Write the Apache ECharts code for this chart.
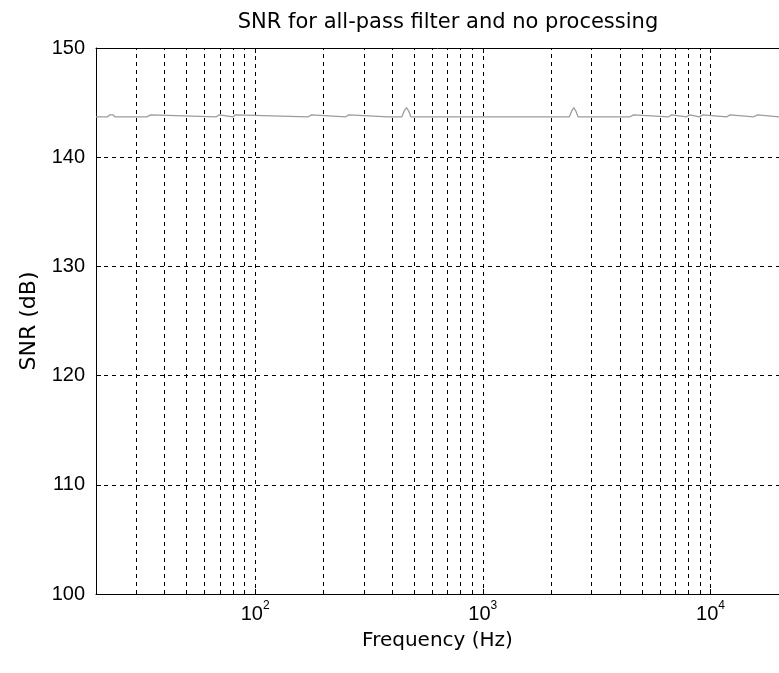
<!DOCTYPE html>
<html>
<head>
<meta charset="utf-8">
<script src="https://cdn.jsdelivr.net/npm/echarts@6/dist/echarts.min.js"></script>
<style>html,body{margin:0;padding:0;background:#fff}#c{width:779px;height:673px}</style>
</head>
<body>
<div id="c"></div>
<script>
// Frequency (Hz) and SNR (dB)
const freqHz = [20, 22.5, 23.0, 23.7, 24.2, 33.4, 34.0, 34.8, 35.4, 67.6, 68.4, 69.6, 70.3,
  80, 80.8, 82.0, 82.9, 171, 173, 177, 179, 250, 253, 258, 261, 385, 391, 397,
  441, 452, 462, 472, 483, 2400, 2460, 2510, 2560, 2620, 4430, 4500, 4600, 4680,
  6560, 6650, 6750, 6820, 7850, 7950, 8100, 8200, 8950, 9050, 9250, 9350,
  11800, 11950, 12200, 12400, 15500, 15700, 16100, 16300, 20000];
const snrDb = [143.7, 143.7, 143.88, 143.88, 143.7, 143.7, 143.88, 143.88, 143.7, 143.7, 143.88, 143.88, 143.7,
  143.7, 143.88, 143.88, 143.7, 143.7, 143.88, 143.88, 143.7, 143.7, 143.88, 143.88, 143.7, 143.7, 143.85, 143.7,
  143.7, 144.25, 144.55, 144.25, 143.7, 143.7, 144.25, 144.55, 144.25, 143.7, 143.7, 143.88, 143.88, 143.7,
  143.7, 143.88, 143.88, 143.7, 143.7, 143.88, 143.88, 143.7, 143.7, 143.88, 143.88, 143.7,
  143.7, 143.88, 143.88, 143.7, 143.7, 143.88, 143.88, 143.7, 143.7];
const minorGridFreqs = [30, 40, 50, 60, 70, 80, 90, 200, 300, 400, 500, 600, 700, 800, 900,
  2000, 3000, 4000, 5000, 6000, 7000, 8000, 9000];
const xRange = [20, 20000];
const yRange = [100, 150];
const yStep = 10;
const titleText = 'SNR for all-pass filter and no processing';
const xName = 'Frequency (Hz)';
const yName = 'SNR (dB)';

const FONT = 'Liberation Sans';
const WIDE = 'DejaVu Sans';
const chart = echarts.init(document.getElementById('c'), null, {renderer: 'canvas'});
const isPow10 = v => Math.abs(Math.log10(v) - Math.round(Math.log10(v))) < 1e-6;
const dash = {color: '#000', width: 1, type: [4, 4]};

chart.setOption({
  animation: false,
  backgroundColor: '#fff',
  title: {
    text: titleText, left: 443, top: 7, textAlign: 'center',
    textStyle: {fontFamily: WIDE, fontSize: 21, fontWeight: 'normal', color: '#000'}
  },
  grid: {left: 96, top: 48, width: 694, height: 546},
  xAxis: [{
    type: 'log', logBase: 10, min: xRange[0], max: xRange[1],
    name: xName, nameLocation: 'middle', nameGap: 37,
    nameTextStyle: {fontFamily: WIDE, fontSize: 20, color: '#000'},
    axisLine: {show: true, lineStyle: {color: '#000', width: 1}},
    axisTick: {show: true, inside: true, length: 5, lineStyle: {color: '#000'}},
    splitLine: {show: true, lineStyle: dash},
    axisLabel: {
      margin: 6, showMinLabel: false, showMaxLabel: false,
      formatter: v => isPow10(v) ? '{b|10}{s|' + Math.round(Math.log10(v)) + '}' : '',
      rich: {
        b: {fontFamily: FONT, fontSize: 20, color: '#000', verticalAlign: 'bottom'},
        s: {fontFamily: FONT, fontSize: 12, color: '#000', verticalAlign: 'top', padding: [0, 0, 12, 0]}
      }
    }
  }, {
    type: 'log', logBase: 10, min: xRange[0], max: xRange[1], position: 'top',
    axisLine: {show: true, lineStyle: {color: '#000', width: 1}},
    axisTick: {show: true, inside: true, length: 5, lineStyle: {color: '#000'}},
    axisLabel: {show: false}, splitLine: {show: false}
  }],
  yAxis: {
    type: 'value', min: yRange[0], max: yRange[1], interval: yStep,
    name: yName, nameLocation: 'middle', nameGap: 56, nameRotate: 90,
    nameTextStyle: {fontFamily: WIDE, fontSize: 22, color: '#000'},
    axisLine: {show: true, lineStyle: {color: '#000', width: 1}},
    axisTick: {show: true, inside: true, length: 5, lineStyle: {color: '#000'}},
    splitLine: {show: true, lineStyle: dash},
    axisLabel: {margin: 11, fontFamily: FONT, fontSize: 20, color: '#000'}
  },
  series: [{
    type: 'line', xAxisIndex: 0, showSymbol: false, symbol: 'none',
    data: freqHz.map((f, i) => [f, snrDb[i]]),
    lineStyle: {color: '#9c9c9c', width: 1.3},
    markLine: {
      silent: true, symbol: 'none', label: {show: false},
      lineStyle: dash,
      data: minorGridFreqs.map(f => ({xAxis: f}))
    },
    z: 3
  }]
});
</script>
</body>
</html>
